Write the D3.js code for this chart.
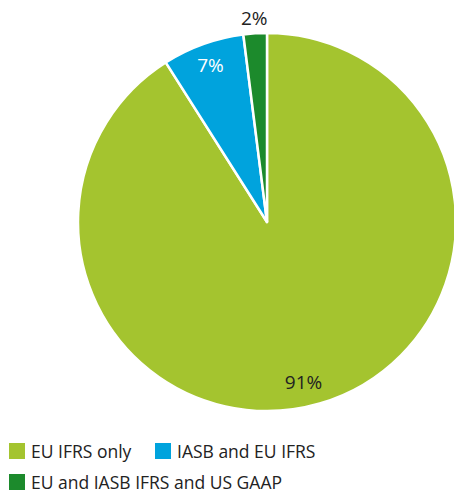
<!DOCTYPE html>
<html>
<head>
<meta charset="utf-8">
<script src="https://cdn.jsdelivr.net/npm/d3@7"></script>
<style>
  html, body { margin: 0; padding: 0; background: #fff; }
  svg { display: block; font-family: "Open Sans", "Noto Sans", sans-serif; }
</style>
</head>
<body>
<svg id="chart" width="454" height="492"></svg>
<script>
// Share of companies by reporting framework
const categories = ["EU IFRS only", "IASB and EU IFRS", "EU and IASB IFRS and US GAAP"];
const values = [91, 7, 2];
const labels = ["91%", "7%", "2%"];
const colors = ["#a4c42f", "#00a3dd", "#1c8a2c"];
const labelColors = ["#222", "#fff", "#222"];
const labelOutside = [false, false, true];

const svg = d3.select("#chart");
const cx = 267, cy = 222, r = 189;

const pie = d3.pie().sort(null).value(d => d);
const arcs = pie(values);
const arc = d3.arc().innerRadius(0).outerRadius(r);
const inLabel = d3.arc().innerRadius(167).outerRadius(167);
const outLabel = d3.arc().innerRadius(204).outerRadius(204);
// small horizontal nudge so the large slice's label sits left of its centroid
const nudgeX = [-10, 0, 0];

const g = svg.append("g").attr("transform", `translate(${cx},${cy})`);

g.selectAll("path.slice")
  .data(arcs)
  .join("path")
  .attr("class", "slice")
  .attr("d", arc)
  .attr("fill", (d, i) => colors[i])
  .attr("stroke", "#fff")
  .attr("stroke-width", 2.5)
  .attr("stroke-linejoin", "round");

g.selectAll("text.value")
  .data(arcs)
  .join("text")
  .attr("class", "value")
  .attr("transform", (d, i) => {
    const [x, y] = (labelOutside[i] ? outLabel : inLabel).centroid(d);
    return `translate(${x + nudgeX[i]},${y})`;
  })
  .attr("text-anchor", "middle")
  .attr("dy", "0.36em")
  .attr("font-size", 19)
  .attr("fill", (d, i) => labelColors[i])
  .text((d, i) => labels[i]);

// Legend
const legendPos = [[9, 443], [155, 443], [9, 474]];
const legend = svg.append("g");
const items = legend.selectAll("g.item")
  .data(categories)
  .join("g")
  .attr("class", "item")
  .attr("transform", (d, i) => `translate(${legendPos[i][0]},${legendPos[i][1]})`);
items.append("rect")
  .attr("width", 16).attr("height", 16)
  .attr("fill", (d, i) => colors[i]);
items.append("text")
  .attr("x", 22).attr("y", 14.5)
  .attr("font-size", 17.5)
  .attr("fill", "#222")
  .text(d => d);
</script>
</body>
</html>
